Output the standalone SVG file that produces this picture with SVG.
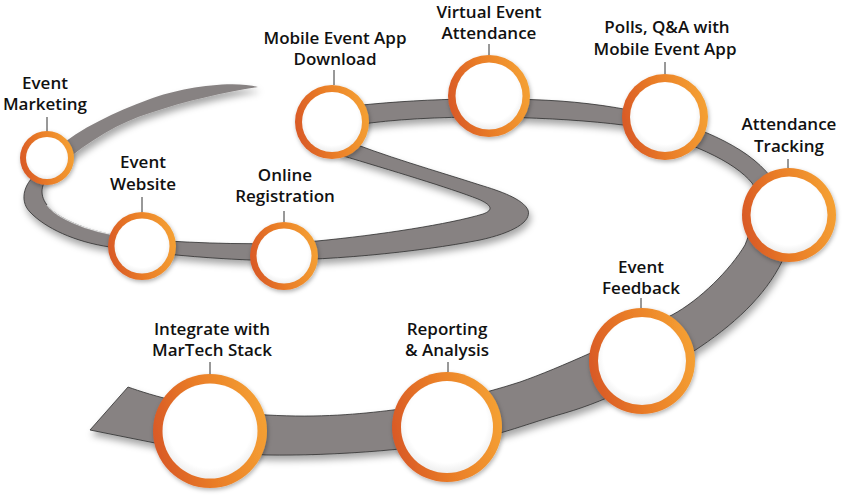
<svg xmlns="http://www.w3.org/2000/svg" width="847" height="499" viewBox="0 0 847 499">
<defs>
  <linearGradient id="ring" x1="0" y1="0.5" x2="1" y2="0.3">
    <stop offset="0" stop-color="#d95a26"/>
    <stop offset="0.45" stop-color="#ea7e28"/>
    <stop offset="1" stop-color="#f5a233"/>
  </linearGradient>
  <radialGradient id="inner" cx="0.5" cy="0.45" r="0.55">
    <stop offset="0.8" stop-color="#ffffff"/>
    <stop offset="1" stop-color="#eeeeee"/>
  </radialGradient>
  <filter id="shadow" x="-20%" y="-20%" width="140%" height="160%">
    <feDropShadow dx="2" dy="5" stdDeviation="3.5" flood-color="#000" flood-opacity="0.35"/>
  </filter>
  <filter id="cshadow" x="-30%" y="-30%" width="160%" height="160%">
    <feDropShadow dx="1" dy="2" stdDeviation="2" flood-color="#000" flood-opacity="0.3"/>
  </filter>
</defs>
<style>
  .road { fill: #878282; filter: url(#shadow); }
  .edge { stroke: #2e2e2e; stroke-width: 0.8; }
  .ring { fill: url(#ring); filter: url(#cshadow); }
  .hole { fill: url(#inner); }
  .lbl { font-family: "Open Sans", "Liberation Sans", sans-serif; font-weight: 600; font-size: 17px; fill: #111; text-anchor: middle; }
  .tick { stroke: #333; stroke-width: 1; }
</style>
<rect width="847" height="499" fill="#ffffff"/>

<g id="connectors">
  <path class="road" d="M 258,87 C 230,80 180,88 150,99 C 115,112 80,128 55,150 L 60,165 C 90,140 120,122 150,113 C 185,101 225,92 258,87 Z"/>
  <path class="road edge" d="M 40,172 C 25,180 18,200 30,212 C 45,228 75,242 110,247 C 150,253 200,258 250,260 C 320,262 420,252 480,240 C 512,233 532,222 528,210 C 523,199 500,191 480,185 C 440,172 380,155 340,138 L 340,155 C 390,170 450,188 478,199 C 492,205 494,210 483,214 C 450,224 380,235 317,241 C 260,246 200,243 150,240 C 100,236 60,222 47,205 C 38,193 42,182 52,172 Z"/>
  <path d="M 47,205 C 60,222 100,236 150,240" fill="none" stroke="#ffffff" stroke-width="1.2" opacity="0.8"/>
  <path class="road edge" d="M 335,108 C 400,100 480,96 560,101 C 640,107 700,125 740,150 C 780,175 800,215 785,255 C 770,290 740,320 700,347 C 660,374 610,400 565,413 C 540,420 518,428 500,433 C 430,450 330,456 267,455 C 220,453 180,450 155,443 L 90,430 L 128,387 C 150,395 200,410 267,415 C 320,418 360,414 393,410 C 440,404 480,395 520,382 C 560,368 620,340 672,315 C 700,300 730,270 745,245 C 755,220 760,195 752,183 C 735,162 690,140 623,125 C 560,117 450,113 370,123 L 340,130 Z"/>
  <line class="tick" x1="47" y1="117" x2="47" y2="132"/>
  <line class="tick" x1="142" y1="197" x2="142" y2="212"/>
  <line class="tick" x1="284" y1="211" x2="284" y2="222"/>
  <line class="tick" x1="334" y1="70" x2="334" y2="85"/>
  <line class="tick" x1="489" y1="44" x2="489" y2="55"/>
  <line class="tick" x1="665" y1="62" x2="665" y2="74"/>
  <line class="tick" x1="788" y1="159" x2="788" y2="168"/>
  <line class="tick" x1="641" y1="298" x2="641" y2="308"/>
  <line class="tick" x1="448" y1="362" x2="448" y2="372"/>
  <line class="tick" x1="210" y1="362" x2="210" y2="374"/>
</g>

<g id="event-marketing">
  <circle class="ring" cx="47" cy="158" r="27"/>
  <circle class="hole" cx="47" cy="158" r="21"/>
  <text class="lbl" x="45" y="89">Event</text>
  <text class="lbl" x="45" y="110">Marketing</text>
</g>
<g id="event-website">
  <circle class="ring" cx="142" cy="246" r="34"/>
  <circle class="hole" cx="142" cy="246" r="27.5"/>
  <text class="lbl" x="143" y="168">Event</text>
  <text class="lbl" x="143" y="190">Website</text>
</g>
<g id="online-registration">
  <circle class="ring" cx="284" cy="256" r="34"/>
  <circle class="hole" cx="284" cy="256" r="27.5"/>
  <text class="lbl" x="285" y="181">Online</text>
  <text class="lbl" x="285" y="202">Registration</text>
</g>
<g id="mobile-app-download">
  <circle class="ring" cx="332" cy="122" r="37"/>
  <circle class="hole" cx="332" cy="122" r="30"/>
  <text class="lbl" x="335" y="44">Mobile Event App</text>
  <text class="lbl" x="335" y="65">Download</text>
</g>
<g id="virtual-attendance">
  <circle class="ring" cx="489" cy="96" r="41"/>
  <circle class="hole" cx="489" cy="96" r="33.5"/>
  <text class="lbl" x="489" y="18">Virtual Event</text>
  <text class="lbl" x="489" y="39">Attendance</text>
</g>
<g id="polls-qa">
  <circle class="ring" cx="665" cy="117" r="43"/>
  <circle class="hole" cx="665" cy="117" r="35"/>
  <text class="lbl" x="667" y="33">Polls, Q&amp;A with</text>
  <text class="lbl" x="665" y="55">Mobile Event App</text>
</g>
<g id="attendance-tracking">
  <circle class="ring" cx="789" cy="215" r="47"/>
  <circle class="hole" cx="789" cy="215" r="38.5"/>
  <text class="lbl" x="789" y="130">Attendance</text>
  <text class="lbl" x="789" y="152">Tracking</text>
</g>
<g id="event-feedback">
  <circle class="ring" cx="642" cy="361" r="53"/>
  <circle class="hole" cx="642" cy="361" r="44"/>
  <text class="lbl" x="641" y="273">Event</text>
  <text class="lbl" x="641" y="294">Feedback</text>
</g>
<g id="reporting-analysis">
  <circle class="ring" cx="447" cy="427" r="55"/>
  <circle class="hole" cx="447" cy="427" r="46"/>
  <text class="lbl" x="447" y="335">Reporting</text>
  <text class="lbl" x="447" y="356">&amp; Analysis</text>
</g>
<g id="integrate-martech">
  <circle class="ring" cx="210" cy="431" r="57"/>
  <circle class="hole" cx="210" cy="431" r="47.5"/>
  <text class="lbl" x="212" y="335">Integrate with</text>
  <text class="lbl" x="212" y="356">MarTech Stack</text>
</g>
</svg>
